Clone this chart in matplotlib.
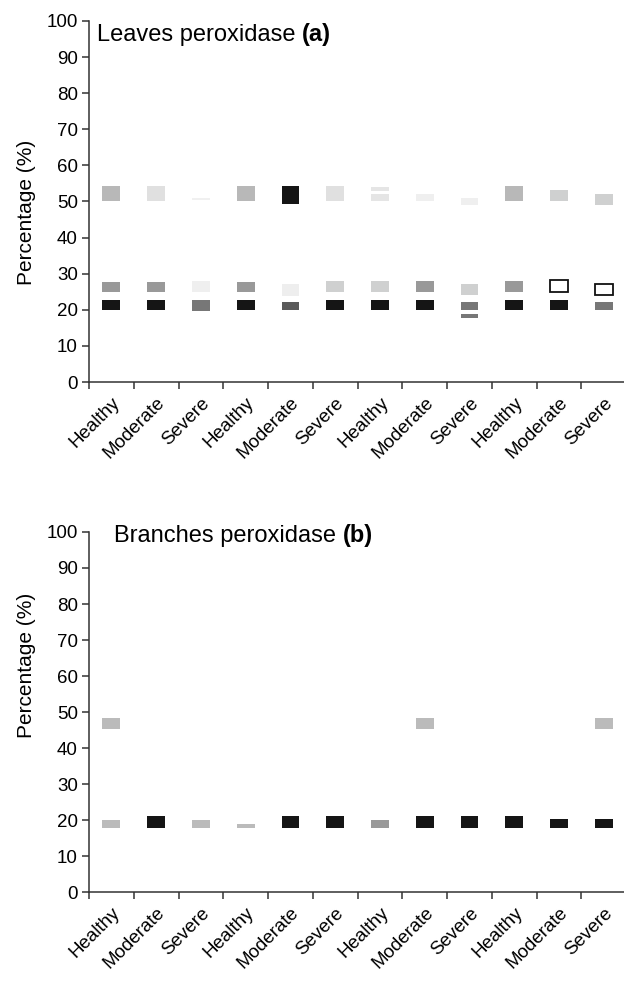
import matplotlib

matplotlib.use('Agg')
import matplotlib.pyplot as plt
import numpy as np

plt.rcParams['font.family'] = ['Liberation Sans', 'DejaVu Sans']

lanes = ['Healthy', 'Moderate', 'Severe'] * 4

# Leaves peroxidase: band limits (percentage) and shade per lane
leaf_top_lo = [50, 50, 50.3, 50, 49.2, 50, 50.2, 50.2, 49, 50, 50.2, 49.1]
leaf_top_hi = [54.2, 54.2, 51, 54.2, 54.4, 54.2, 52.1, 52.1, 51, 54.2, 53.2, 52.1]
leaf_top_shade = ['#b8b8b8', '#e0e0e0', '#f0f0f0', '#b8b8b8', '#151515', '#e0e0e0',
                  '#e5e5e5', '#efefef', '#efefef', '#b8b8b8', '#cfd0d0', '#cfd0d0']

leaf_mid_lo = [24.9, 24.9, 25, 24.9, 23.9, 25, 25, 25, 24, 25, 25, 24]
leaf_mid_hi = [27.8, 27.8, 28, 27.8, 27.2, 28, 28, 28, 27.2, 28, 28.2, 27.1]
leaf_mid_shade = ['#999999', '#999999', '#efefef', '#999999', '#eeeeee', '#cfd0d0',
                  '#cfd0d0', '#999999', '#cfd0d0', '#999999', 'white', 'white']
leaf_mid_outline = [False] * 10 + [True, True]

leaf_low_lo = [20, 20, 19.7, 20, 20, 20, 20, 20, 20, 20, 20, 20]
leaf_low_hi = [22.8, 22.8, 22.8, 22.8, 22.2, 22.8, 22.8, 22.8, 22.2, 22.8, 22.8, 22.2]
leaf_low_shade = ['#151515', '#151515', '#777777', '#151515', '#5a5a5a', '#151515',
                  '#151515', '#151515', '#777777', '#151515', '#151515', '#777777']

# extra faint bands
leaf_extra_lane = [6, 8]
leaf_extra_lo = [53, 17.8]
leaf_extra_hi = [54.1, 18.9]
leaf_extra_shade = ['#e5e5e5', '#777777']

# Branches peroxidase
branch_top_lane = [0, 7, 11]
branch_top_lo = [45.4, 45.4, 45.4]
branch_top_hi = [48.2, 48.2, 48.2]
branch_top_shade = ['#bbbbbb', '#bbbbbb', '#bbbbbb']

branch_low_lo = [17.9] * 12
branch_low_hi = [20, 21.2, 20, 18.9, 21.2, 21.2, 20, 21.2, 21.2, 21.2, 20.3, 20.3]
branch_low_shade = ['#bbbbbb', '#151515', '#bbbbbb', '#bbbbbb', '#151515', '#151515',
                    '#999999', '#151515', '#151515', '#151515', '#151515', '#151515']

BAND_W = 0.4


def draw_bands(ax, xs, lo, hi, shades, outline=None):
    lo = np.array(lo)
    hi = np.array(hi)
    for i, x in enumerate(xs):
        if outline is not None and outline[i]:
            ax.bar(x, hi[i] - lo[i], bottom=lo[i], width=BAND_W, color='white',
                   edgecolor='#111111', linewidth=1.3)
        else:
            ax.bar(x, hi[i] - lo[i], bottom=lo[i], width=BAND_W, color=shades[i],
                   edgecolor='none')


def style_axes(ax, label_y):
    ax.set_xlim(-0.5, 11.45)
    ax.set_ylim(0, 100)
    ax.spines['top'].set_visible(False)
    ax.spines['right'].set_visible(False)
    for s in ['left', 'bottom']:
        ax.spines[s].set_color('#333333')
        ax.spines[s].set_linewidth(1.1)
    ax.set_yticks(range(0, 101, 10))
    ax.tick_params(axis='y', length=5, width=1.1, color='#333333', labelsize=13.5, pad=3)
    ax.set_xticks(range(12))
    ax.set_xticklabels(lanes, rotation=45, ha='right', rotation_mode='anchor', fontsize=13.5)
    ax.tick_params(axis='x', which='major', length=0, pad=9)
    ax.set_xticks(np.arange(-0.5, 11.6, 1), minor=True)
    ax.tick_params(axis='x', which='minor', length=5, width=1.1, color='#333333')
    ax.set_ylabel('Percentage (%)', fontsize=15)
    ax.yaxis.set_label_coords(-0.098, label_y)


fig = plt.figure(figsize=(6.24, 9.81), dpi=100)
ax1 = fig.add_axes([0.1426, 0.6106, 0.861, 0.368])
ax2 = fig.add_axes([0.1426, 0.0907, 0.861, 0.367])

x = np.arange(12)
draw_bands(ax1, x, leaf_top_lo, leaf_top_hi, leaf_top_shade)
draw_bands(ax1, x, leaf_mid_lo, leaf_mid_hi, leaf_mid_shade, leaf_mid_outline)
draw_bands(ax1, x, leaf_low_lo, leaf_low_hi, leaf_low_shade)
draw_bands(ax1, leaf_extra_lane, leaf_extra_lo, leaf_extra_hi, leaf_extra_shade)

draw_bands(ax2, branch_top_lane, branch_top_lo, branch_top_hi, branch_top_shade)
draw_bands(ax2, x, branch_low_lo, branch_low_hi, branch_low_shade)

style_axes(ax1, 0.47)
style_axes(ax2, 0.63)

ax1.text(0.015, 0.945, 'Leaves peroxidase', transform=ax1.transAxes, fontsize=17, va='baseline')
ax1.text(0.397, 0.945, '(a)', transform=ax1.transAxes, fontsize=17, fontweight='bold', va='baseline')
ax2.text(0.0466, 0.973, 'Branches peroxidase', transform=ax2.transAxes, fontsize=17, va='baseline')
ax2.text(0.473, 0.973, '(b)', transform=ax2.transAxes, fontsize=17, fontweight='bold', va='baseline')

plt.savefig('out.png', dpi=100)
plt.close()
